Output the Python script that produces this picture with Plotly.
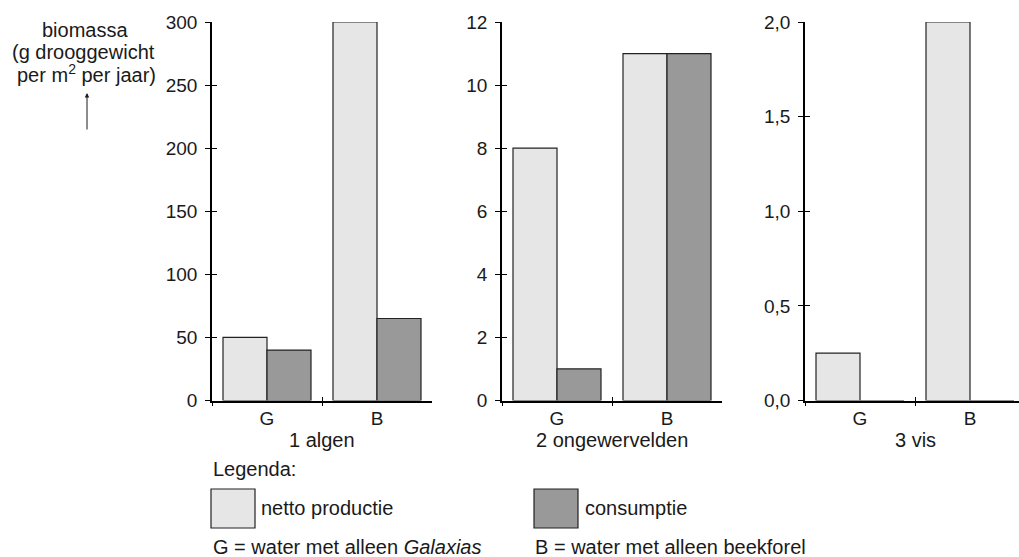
import plotly.graph_objects as go

# ---- data ----
groups = ["G", "B"]
panel_titles = ["1 algen", "2 ongewervelden", "3 vis"]
netto_productie = [[50, 300], [8, 11], [0.25, 2.0]]
consumptie = [[40, 65], [1, 11], [0, 0]]
y_maxes = [300, 12, 2.0]
y_tickvals = [[0, 50, 100, 150, 200, 250, 300],
              [0, 2, 4, 6, 8, 10, 12],
              [0.0, 0.5, 1.0, 1.5, 2.0]]
y_tickformats = ["d", "d", ".1f"]
series_names = ["netto productie", "consumptie"]
y_title_lines = ["biomassa", "(g drooggewicht", "per m<sup>2</sup> per jaar)"]
legend_title = "Legenda:"
footnotes = ["G = water met alleen <i>Galaxias</i>", "B = water met alleen beekforel"]

# ---- style ----
W, H = 1019, 557
FONT = "Liberation Sans, Arial, Helvetica, sans-serif"
C_NETTO = "#e6e6e6"
C_CONS = "#999999"
EDGE = "#222222"
TXT = "#1a1a1a"
TICK_FS = 19
TEXT_FS = 20

def fx(px):
    return px / W

def fy(py):
    return 1 - py / H

x_domains_px = [(212, 432), (502, 722), (805, 1019)]
x_ranges = [[-0.5, 1.5], [-0.5, 1.5], [-0.5, -0.5 + 214 / 110]]
y_dom = [fy(400.5), fy(22)]

fig = go.Figure()
layout = dict(
    width=W, height=H,
    margin=dict(l=0, r=0, t=0, b=0, autoexpand=False),
    paper_bgcolor="white", plot_bgcolor="white",
    showlegend=False,
    barmode="group", bargap=0.2, bargroupgap=0,
    separators=", ",
    font=dict(family=FONT, size=TICK_FS, color=TXT),
)

annotations = []
shapes = []

for i in range(3):
    n = i + 1
    xa = "x" if n == 1 else f"x{n}"
    ya = "y" if n == 1 else f"y{n}"
    fig.add_trace(go.Bar(x=groups, y=netto_productie[i], name=series_names[0],
                         xaxis=xa, yaxis=ya, offsetgroup="a",
                         marker=dict(color=C_NETTO, line=dict(color=EDGE, width=1.2))))
    fig.add_trace(go.Bar(x=groups, y=consumptie[i], name=series_names[1],
                         xaxis=xa, yaxis=ya, offsetgroup="b",
                         marker=dict(color=C_CONS, line=dict(color=EDGE, width=1.2))))
    d0, d1 = x_domains_px[i]
    layout[f"xaxis{'' if n == 1 else n}"] = dict(
        domain=[fx(d0), fx(d1)], anchor=ya, type="category",
        categoryorder="array", categoryarray=groups,
        range=x_ranges[i], tickson="boundaries", automargin=False,
        ticks="outside", ticklen=4, tickwidth=1.3, tickcolor="black",
        showline=True, linecolor="black", linewidth=1.5,
        showgrid=False, zeroline=False,
        tickfont=dict(size=TICK_FS, family=FONT, color=TXT),
        fixedrange=True,
    )
    layout[f"yaxis{'' if n == 1 else n}"] = dict(
        domain=y_dom, anchor=xa, range=[0, y_maxes[i]], automargin=False,
        tickmode="array", tickvals=y_tickvals[i], tickformat=y_tickformats[i],
        ticks="outside", ticklen=5, tickwidth=1.3, tickcolor="black",
        showline=True, linecolor="black", linewidth=1.5,
        showgrid=False, zeroline=False,
        tickfont=dict(size=TICK_FS, family=FONT, color=TXT),
        ticklabelstandoff=4,
        fixedrange=True,
    )
    # overlay axes: inner half of the crossing ticks
    ox = f"x{n + 3}"
    oy = f"y{n + 3}"
    layout[f"xaxis{n + 3}"] = dict(
        overlaying=xa, anchor=ya, range=x_ranges[i], automargin=False,
        tickmode="array", tickvals=[-0.5, 0.5, 1.5],
        ticks="inside", ticklen=4, tickwidth=1.3, tickcolor="black",
        showticklabels=False, showline=False, showgrid=False, zeroline=False,
        fixedrange=True,
    )
    layout[f"yaxis{n + 3}"] = dict(
        overlaying=ya, anchor=xa, range=[0, y_maxes[i]], automargin=False,
        tickmode="array", tickvals=y_tickvals[i],
        ticks="inside", ticklen=5, tickwidth=1.3, tickcolor="black",
        showticklabels=False, showline=False, showgrid=False, zeroline=False,
        fixedrange=True,
    )
    fig.add_trace(go.Scatter(x=[None], y=[None], xaxis=ox, yaxis=ya,
                             hoverinfo="skip", showlegend=False))
    fig.add_trace(go.Scatter(x=[None], y=[None], xaxis=xa, yaxis=oy,
                             hoverinfo="skip", showlegend=False))
    # panel title
    annotations.append(dict(x=0.5, xref=xa, y=fy(440), yref="paper",
                            text=panel_titles[i], showarrow=False,
                            xanchor="center", yanchor="middle",
                            font=dict(size=TEXT_FS, family=FONT, color=TXT)))

# y-axis title block
for txt, cx, cy in zip(y_title_lines, [85, 83.5, 86.5], [30, 52, 74]):
    annotations.append(dict(x=fx(cx), y=fy(cy), xref="paper", yref="paper",
                            text=txt, showarrow=False, xanchor="center", yanchor="middle",
                            font=dict(size=TEXT_FS, family=FONT, color=TXT)))
annotations.append(dict(x=fx(87), y=fy(93), xref="paper", yref="paper", text="",
                        showarrow=True, ax=0, ay=38, arrowhead=2, arrowsize=0.9,
                        arrowwidth=1, arrowcolor=TXT))

# legend
annotations.append(dict(x=fx(211), y=fy(469), xref="paper", yref="paper",
                        text=legend_title, showarrow=False, xanchor="left", yanchor="middle",
                        font=dict(size=TEXT_FS, family=FONT, color=TXT)))
for (bx, tx), col, name in zip([(211, 259), (534, 583)], [C_NETTO, C_CONS], series_names):
    shapes.append(dict(type="rect", xref="paper", yref="paper",
                       x0=fx(bx), x1=fx(bx + 44), y0=fy(528), y1=fy(489),
                       fillcolor=col, line=dict(color=EDGE, width=1.2)))
    annotations.append(dict(x=fx(tx), y=fy(508), xref="paper", yref="paper",
                            text=name, showarrow=False, xanchor="left", yanchor="middle",
                            font=dict(size=TEXT_FS, family=FONT, color=TXT)))
for txt, lx in zip(footnotes, [211, 533]):
    annotations.append(dict(x=fx(lx), y=fy(547), xref="paper", yref="paper",
                            text=txt, showarrow=False, xanchor="left", yanchor="middle",
                            font=dict(size=TEXT_FS, family=FONT, color=TXT)))

layout["annotations"] = annotations
layout["shapes"] = shapes
fig.update_layout(**layout)
fig.write_html(
    "out.html",
    config={"displayModeBar": False},
    post_script="document.body.style.margin='0';document.body.style.overflow='hidden';",
)
